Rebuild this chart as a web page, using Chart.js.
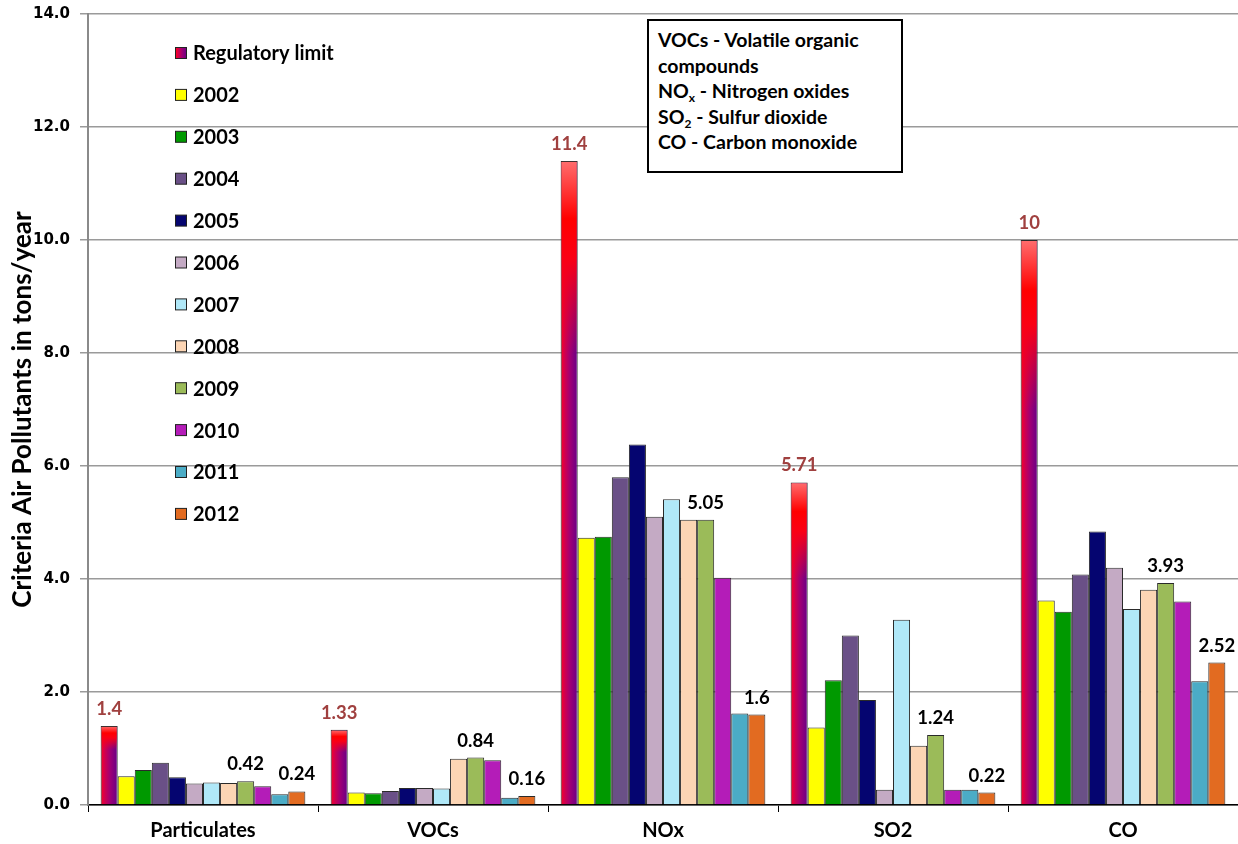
<!DOCTYPE html>
<html>
<head>
<meta charset="utf-8">
<script src="https://cdn.jsdelivr.net/npm/chart.js@4/dist/chart.umd.min.js"></script>
<style>
  body { margin: 0; background: #fff; }
  #wrap { position: relative; width: 1238px; height: 844px; }
  #note {
    position: absolute; left: 647px; top: 19px; width: 256px; height: 154px;
    background: #fff; border: 2px solid #000;
    font: bold 19.5px Lato, "Open Sans", sans-serif; line-height: 25.5px;
    padding: 6px 0 0 9px; box-sizing: border-box; color: #000; white-space: nowrap;
  }
  #note sub { font-size: 12px; line-height: 0; vertical-align: -4px; }
</style>
</head>
<body>
<div id="wrap">
  <canvas id="chart" width="1238" height="844"></canvas>
  <div id="note">
    VOCs - Volatile organic<br>compounds<br>NO<sub>x</sub> - Nitrogen oxides<br>SO<sub>2</sub> - Sulfur dioxide<br>CO - Carbon monoxide
  </div>
</div>
<script>
// ─── Données ──────────────────────────────────────────────────────────────────
const categories = ["Particulates", "VOCs", "NOx", "SO2", "CO"];
const seriesNames = ["Regulatory limit", "2002", "2003", "2004", "2005", "2006",
                     "2007", "2008", "2009", "2010", "2011", "2012"];

const regulatoryLimit = [1.4, 1.33, 11.4, 5.71, 10];
const y2002 = [0.51, 0.22, 4.73, 1.37, 3.62];
const y2003 = [0.62, 0.21, 4.75, 2.21, 3.42];
const y2004 = [0.75, 0.25, 5.80, 3.00, 4.08];
const y2005 = [0.49, 0.30, 6.38, 1.86, 4.84];
const y2006 = [0.38, 0.30, 5.10, 0.27, 4.20];
const y2007 = [0.40, 0.29, 5.41, 3.28, 3.47];
const y2008 = [0.39, 0.82, 5.05, 1.05, 3.81];
const y2009 = [0.42, 0.84, 5.05, 1.24, 3.93];
const y2010 = [0.33, 0.79, 4.02, 0.27, 3.60];
const y2011 = [0.19, 0.13, 1.62, 0.27, 2.19];
const y2012 = [0.24, 0.16, 1.6, 0.22, 2.52];

const seriesValues = [regulatoryLimit, y2002, y2003, y2004, y2005, y2006,
                      y2007, y2008, y2009, y2010, y2011, y2012];

// séries dont les valeurs sont affichées au-dessus des barres
const labelledSeries = [0, 8, 11];

const yTicks = [0, 2, 4, 6, 8, 10, 12, 14];

// ─── Style ────────────────────────────────────────────────────────────────────
const FONT = 'Lato, "Open Sans", sans-serif';
const CAT_PCT = 0.89;
const seriesColors = [null, "#ffff00", "#009900", "#6a5087", "#050570", "#c4aac4",
                      "#b0e8f8", "#fcd5b4", "#9bbb59", "#b41cb8", "#4bacc6", "#e26b21"];

function addRegStops(g) {
  g.addColorStop(0, "#ff0020");
  g.addColorStop(0.2, "#d80048");
  g.addColorStop(0.55, "#a00074");
  g.addColorStop(1, "#660088");
  return g;
}

function regGradient(ctx) {
  const chart = ctx.chart;
  const xs = chart.scales && chart.scales.x;
  if (!chart.chartArea || !xs || ctx.dataIndex === undefined) return "#d0004a";
  const catW = xs.width / categories.length;
  const left = xs.getPixelForValue(ctx.dataIndex) - catW * CAT_PCT / 2;
  const right = left + catW * CAT_PCT / seriesValues.length;
  return addRegStops(chart.ctx.createLinearGradient(left, 0, right, 0));
}

// reflet rouge/rose en haut de la barre "Regulatory limit"
const topGlow = {
  id: "topGlow",
  afterDatasetsDraw(chart) {
    const c = chart.ctx;
    chart.getDatasetMeta(0).data.forEach(el => {
      const h = (el.base - el.y) * 0.3;
      const g = c.createLinearGradient(0, el.y, 0, el.y + h);
      g.addColorStop(0, "rgba(255,110,110,1)");
      g.addColorStop(0.3, "rgba(255,0,0,1)");
      g.addColorStop(0.5, "rgba(250,0,20,1)");
      g.addColorStop(1, "rgba(250,0,20,0)");
      c.save();
      c.fillStyle = g;
      c.fillRect(el.x - el.width / 2 + 1, el.y + 1, el.width - 2, h - 1);
      c.restore();
    });
  }
};

const valueLabels = {
  id: "valueLabels",
  afterDatasetsDraw(chart) {
    const c = chart.ctx;
    c.save();
    c.font = "bold 18.5px " + FONT;
    c.textAlign = "center";
    c.textBaseline = "middle";
    labelledSeries.forEach(di => {
      c.fillStyle = di === 0 ? "#a0403f" : "#000";
      chart.getDatasetMeta(di).data.forEach((el, i) => {
        c.fillText(String(seriesValues[di][i]), el.x, el.y - 17);
      });
    });
    c.restore();
  }
};

const insideLegend = {
  id: "insideLegend",
  afterDraw(chart) {
    const c = chart.ctx;
    c.save();
    c.font = "bold 20px " + FONT;
    c.textBaseline = "middle";
    seriesNames.forEach((name, i) => {
      const y = 53 + i * 41.9;
      c.fillStyle = i === 0 ? addRegStops(c.createLinearGradient(176, 0, 187, 0)) : seriesColors[i];
      c.fillRect(175.5, y - 5.5, 11, 11);
      c.strokeStyle = "#222";
      c.lineWidth = 1;
      c.strokeRect(175.5, y - 5.5, 11, 11);
      c.fillStyle = "#000";
      c.fillText(name, 193, y + 1);
    });
    c.restore();
  }
};

const datasets = seriesNames.map((name, i) => ({
  label: name,
  data: seriesValues[i],
  backgroundColor: i === 0 ? regGradient : seriesColors[i],
  borderColor: "#2a2a2a",
  borderWidth: 1,
  barPercentage: 1.0,
  categoryPercentage: CAT_PCT,
}));

new Chart(document.getElementById("chart"), {
  type: "bar",
  data: { labels: categories, datasets },
  options: {
    responsive: false,
    animation: false,
    layout: { padding: { top: 14, right: 0, left: 0, bottom: 0 } },
    plugins: { legend: { display: false }, tooltip: { enabled: false } },
    scales: {
      x: {
        afterFit: s => { s.height = 39; },
        grid: { offset: true, drawOnChartArea: false, drawTicks: true, tickLength: 7, color: "#000", lineWidth: 1 },
        border: { display: true, color: "#000", width: 1.5 },
        ticks: { color: "#000", padding: 7, font: { family: FONT, size: 20, weight: "bold" } },
      },
      y: {
        min: 0,
        max: 14,
        afterFit: s => { s.width = 88; s.paddingTop = 0; s.paddingBottom = 0; },
        afterBuildTicks: s => { s.ticks = yTicks.map(v => ({ value: v })); },
        grid: { color: "#9a9a9a", lineWidth: 1.5, tickLength: 8 },
        border: { display: true, color: "#8a8a8a", width: 2 },
        ticks: {
          color: "#000",
          padding: 10,
          font: { family: "'DejaVu Sans', Verdana, sans-serif", size: 15, weight: "bold" },
          callback: v => Number(v).toFixed(1),
        },
        title: {
          display: true,
          text: "Criteria Air Pollutants in tons/year",
          color: "#000",
          padding: { top: 7, bottom: 0 },
          font: { family: FONT, size: 26, weight: "bold" },
        },
      },
    },
  },
  plugins: [topGlow, valueLabels, insideLegend],
});
</script>
</body>
</html>
